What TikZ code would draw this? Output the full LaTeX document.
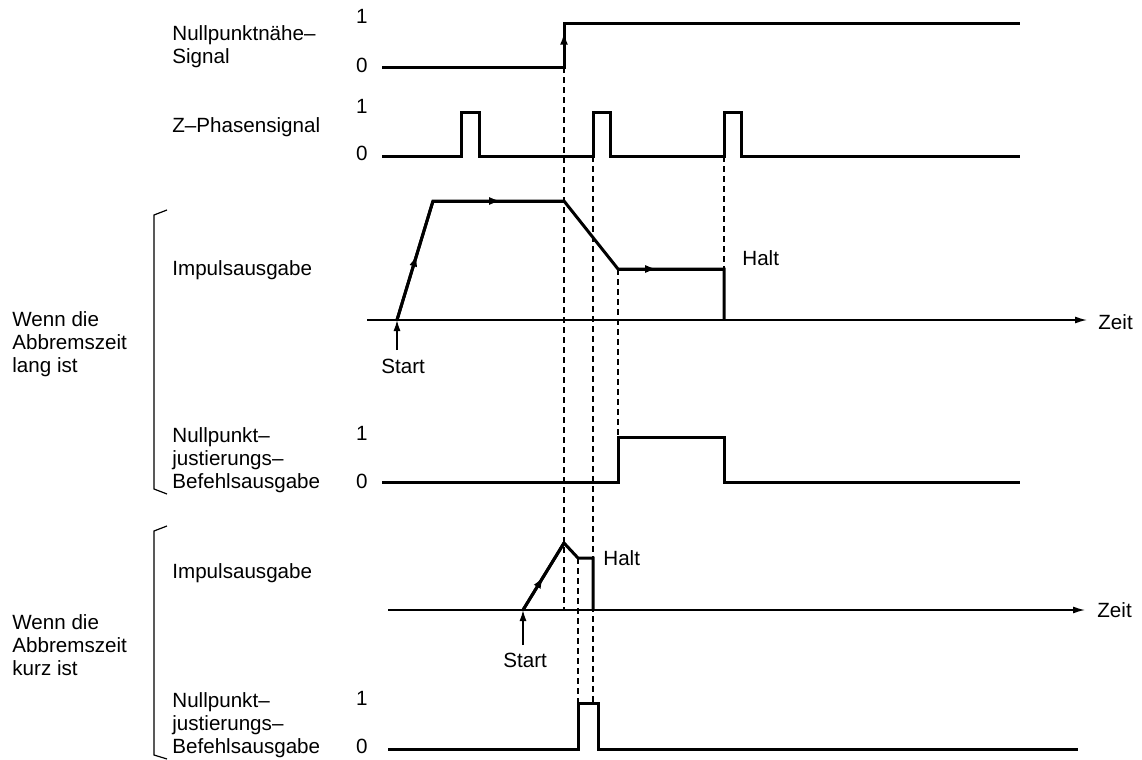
\documentclass[tikz,border=0pt]{standalone}
\usepackage{fontspec}
\setmainfont{Liberation Sans}
\usetikzlibrary{arrows.meta,decorations.markings,calc}

\begin{document}
\begin{tikzpicture}[x=0.5pt,y=-0.5pt,
  sig/.style={line width=1.5pt, line join=miter, black},
  achse/.style={line width=0.7pt, -{Latex[length=6pt,width=3.5pt]}},
  hilf/.style={line width=0.6pt, dash pattern=on 3pt off 2pt},
  klammer/.style={line width=0.6pt},
  lbl/.style={font=\fontsize{10.3}{11.35}\selectfont, inner sep=0pt, anchor=base west, align=left},
  pegel/.style={lbl, anchor=base east},
  midarr/.style={postaction={decorate}, decoration={markings,
      mark=at position #1 with {\arrow{Latex[length=6pt,width=4pt]}}}},
  pfeil/.style={line width=0.7pt, -{Latex[length=5.5pt,width=3.5pt]}}]
  \useasboundingbox (0,0) rectangle (1142,760);

  % Beschriftungen links (Basislinie der letzten Zeile)
  \node[lbl] (nahe) at (172,63) {Nullpunktnähe–\\Signal};
  \node[lbl] (zph) at (172,132) {Z–Phasensignal};
  \node[lbl] (impL) at (172,275) {Impulsausgabe};
  \node[lbl] (njL) at (172,488) {Nullpunkt–\\justierungs–\\Befehlsausgabe};
  \node[lbl] (impK) at (172,578) {Impulsausgabe};
  \node[lbl] (njK) at (172,753) {Nullpunkt–\\justierungs–\\Befehlsausgabe};
  \node[lbl] (lang) at (12,372) {Wenn die\\Abbremszeit\\lang ist};
  \node[lbl] (kurz) at (12,675) {Wenn die\\Abbremszeit\\kurz ist};
  \draw[klammer] (167,210) -- (154,215) -- (154,489) -- (167,494);
  \draw[klammer] (167,526) -- (154,531) -- (154,755) -- (167,759);

  % Pegel 1/0
  \foreach \e/\n/\y in {1/na1/24, 0/na0/72, 1/zp1/113, 0/zp0/160,
                        1/jl1/440, 0/jl0/488, 1/jk1/705, 0/jk0/753}
    \node[pegel] (\n) at (368,\y) {\e};

  % Hilfslinien
  \draw[hilf] (564,67) -- (564,610);
  \draw[hilf] (593,156) -- (593,703);
  \draw[hilf] (724,156) -- (724,269);
  \draw[hilf] (618,269) -- (618,437);
  \draw[hilf] (578,558) -- (578,703);

  % Nullpunktnaehe-Signal
  \draw[sig] (382,67) -- (564,67) coordinate (n0) -- (564,23) coordinate (n1) -- (1020,23);
  \draw[sig, midarr=0.78] (n0) -- (n1);

  % Z-Phasensignal
  \draw[sig] (382,156) -- (461,156) -- (461,112) -- (479,112) -- (479,156)
    -- (593,156) -- (593,112) -- (610,112) -- (610,156)
    -- (724,156) -- (724,112) -- (741,112) -- (741,156) -- (1020,156);

  % Impulsausgabe, lang
  \draw[achse] (367,320) coordinate (axL) -- (1087,320) coordinate (axLe);
  \node[lbl] (zeitL) at (1098,329) {Zeit};
  \draw[sig] (397,320) coordinate (l0) -- (433,201) coordinate (l1) -- (564,201) coordinate (l2)
    -- (618,269) coordinate (l3) -- (724,269) coordinate (l4) -- (724,320);
  \draw[sig, midarr=0.55] (l0) -- (l1);
  \draw[sig, midarr=0.52] (l1) -- (l2);
  \draw[sig, midarr=0.37] (l3) -- (l4);
  \node[lbl] (haltL) at (742,265) {Halt};
  \node[lbl] (startL) at (381,373) {Start};
  \coordinate (stL) at (397,350);
  \draw[pfeil] (stL) -- (l0);

  % Befehlsausgabe, lang
  \draw[sig] (382,482) -- (618,482) -- (618,437) -- (724,437) -- (724,482) -- (1020,482);

  % Impulsausgabe, kurz
  \draw[achse] (388,610) coordinate (axK) -- (1085,610) coordinate (axKe);
  \node[lbl] (zeitK) at (1097,617) {Zeit};
  \draw[sig] (523,610) coordinate (k0) -- (564,543) coordinate (k1) -- (578,558) coordinate (k2)
    -- (593,558) coordinate (k3) -- (593,610);
  \draw[sig, midarr=0.5] (k0) -- (k1);
  \node[lbl] (haltK) at (603,565) {Halt};
  \node[lbl] (startK) at (503,667) {Start};
  \coordinate (stK) at (523,645);
  \draw[pfeil] (stK) -- (k0);

  % Befehlsausgabe, kurz
  \draw[sig] (388,749) -- (578,749) -- (578,703) -- (598,703) -- (598,749) -- (1078,749);
\end{tikzpicture}
\end{document}
